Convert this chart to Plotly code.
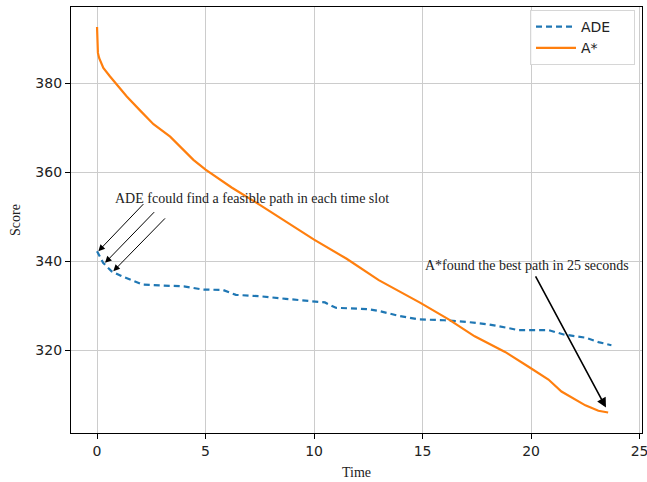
import plotly.graph_objects as go

time_ade = [0, 0.28, 0.67, 1.13, 2.1, 3.2, 4.0, 4.87, 5.8, 6.4, 7.5, 8.7, 10.0, 10.5, 11.0, 12.5, 12.98, 13.9, 14.8, 16.0, 17.1, 18.0, 18.9, 19.4, 20.8, 21.5, 22.5, 23.1, 23.7]
score_ade = [342.3, 339.7, 337.8, 336.7, 334.8, 334.5, 334.4, 333.7, 333.6, 332.5, 332.2, 331.6, 331.0, 330.8, 329.6, 329.3, 328.9, 327.8, 327.0, 326.8, 326.4, 325.9, 325.1, 324.6, 324.6, 323.6, 322.9, 321.9, 321.2]

time_astar = [0, 0.01, 0.04, 0.1, 0.29, 0.6, 0.91, 1.37, 1.98, 2.6, 3.37, 3.83, 4.44, 5.0, 6.2, 7.5, 8.8, 10.0, 11.5, 12.98, 14.9, 16.2, 17.4, 18.8, 19.9, 20.8, 21.4, 22.5, 23.1, 23.55]
score_astar = [392.6, 388.2, 386.8, 385.6, 383.4, 381.5, 379.6, 377.0, 373.9, 370.8, 368.0, 365.8, 362.8, 360.6, 356.6, 352.7, 348.6, 344.9, 340.6, 335.8, 330.7, 327.0, 323.2, 319.7, 316.3, 313.5, 310.8, 307.7, 306.5, 306.1]

series_names = ["ADE", "A*"]
x_ticks = [0, 5, 10, 15, 20, 25]
y_ticks = [320, 340, 360, 380]

ade_text = "ADE fcould find a feasible path in each time slot"
astar_text = "A*found the best path in 25 seconds"
ade_arrow_tips = [(0.06, 342.3), (0.37, 339.7), (0.75, 337.8)]
ade_arrow_tails = [(2.2, 353.2), (2.7, 351.4), (3.2, 350.0)]
astar_arrow_tip = (23.45, 307.2)
astar_arrow_tail = (20.17, 337.0)

pad = "\u00a0" * 4  # widens the legend box like the reference
fig = go.Figure()
fig.add_trace(go.Scatter(x=time_ade, y=score_ade, mode="lines", name=series_names[0] + pad,
                         line=dict(color="#1f77b4", width=2.2, dash="6px,4px")))
fig.add_trace(go.Scatter(x=time_astar, y=score_astar, mode="lines", name=series_names[1] + pad,
                         line=dict(color="#ff7f0e", width=2.2)))

serif = "Liberation Serif, Times New Roman, serif"
annotations = []
for (tx, ty), (sx, sy) in zip(ade_arrow_tips, ade_arrow_tails):
    annotations.append(dict(x=tx, y=ty, ax=sx, ay=sy, xref="x", yref="y", axref="x", ayref="y",
                            showarrow=True, arrowhead=2, arrowsize=1.3, arrowwidth=1,
                            arrowcolor="black", text=""))
annotations.append(dict(x=0.74, y=354.1, xref="x", yref="y", text=ade_text, showarrow=False,
                        xanchor="left", yanchor="middle", font=dict(family=serif, size=14, color="#222")))
annotations.append(dict(x=astar_arrow_tip[0], y=astar_arrow_tip[1], ax=astar_arrow_tail[0], ay=astar_arrow_tail[1],
                        xref="x", yref="y", axref="x", ayref="y", showarrow=True, arrowhead=2,
                        arrowsize=1.2, arrowwidth=1.6, arrowcolor="black", text=""))
annotations.append(dict(x=15.03, y=339.0, xref="x", yref="y", text=astar_text, showarrow=False,
                        xanchor="left", yanchor="middle", font=dict(family=serif, size=14, color="#222")))
# axis titles
annotations.append(dict(x=0.5, y=(433 - 472) / 426, xref="paper", yref="paper", text="Time", showarrow=False,
                        xanchor="center", yanchor="middle",
                        font=dict(family=serif, size=14, color="#222")))
annotations.append(dict(x=(15 - 71) / 571, y=0.5, xref="paper", yref="paper", text="Score", showarrow=False,
                        xanchor="center", yanchor="middle",
                        textangle=-90, font=dict(family=serif, size=14, color="#222")))

axis_common = dict(showline=True, linecolor="black", linewidth=1.2, mirror=True,
                   ticks="outside", ticklen=5, tickwidth=1, tickcolor="black",
                   showgrid=True, gridcolor="#cccccc", gridwidth=1, zeroline=False,
                   automargin=False, ticklabeloverflow="allow",
                   tickfont=dict(family="DejaVu Sans", size=14, color="#222"))

fig.update_layout(
    width=647, height=482,
    margin=dict(l=71, r=5, t=7, b=49, autoexpand=False),
    plot_bgcolor="white", paper_bgcolor="white",
    xaxis=dict(range=[-1.2, 25.11], tickvals=x_ticks, **axis_common),
    yaxis=dict(range=[301.5, 397.1], tickvals=y_ticks, **axis_common),
    legend=dict(x=(530 - 71) / 571, y=(433 - 10) / 426, xanchor="left", yanchor="top",
                bgcolor="rgba(255,255,255,0.8)", bordercolor="#d6d6d6", borderwidth=1,
                itemwidth=40,
                font=dict(family="DejaVu Sans", size=14, color="#222"), tracegroupgap=2),
    annotations=annotations,
    showlegend=True,
)

fig.write_html("out.html", config={"displayModeBar": False},
               post_script="document.body.style.margin='0';document.body.style.overflow='hidden';")
